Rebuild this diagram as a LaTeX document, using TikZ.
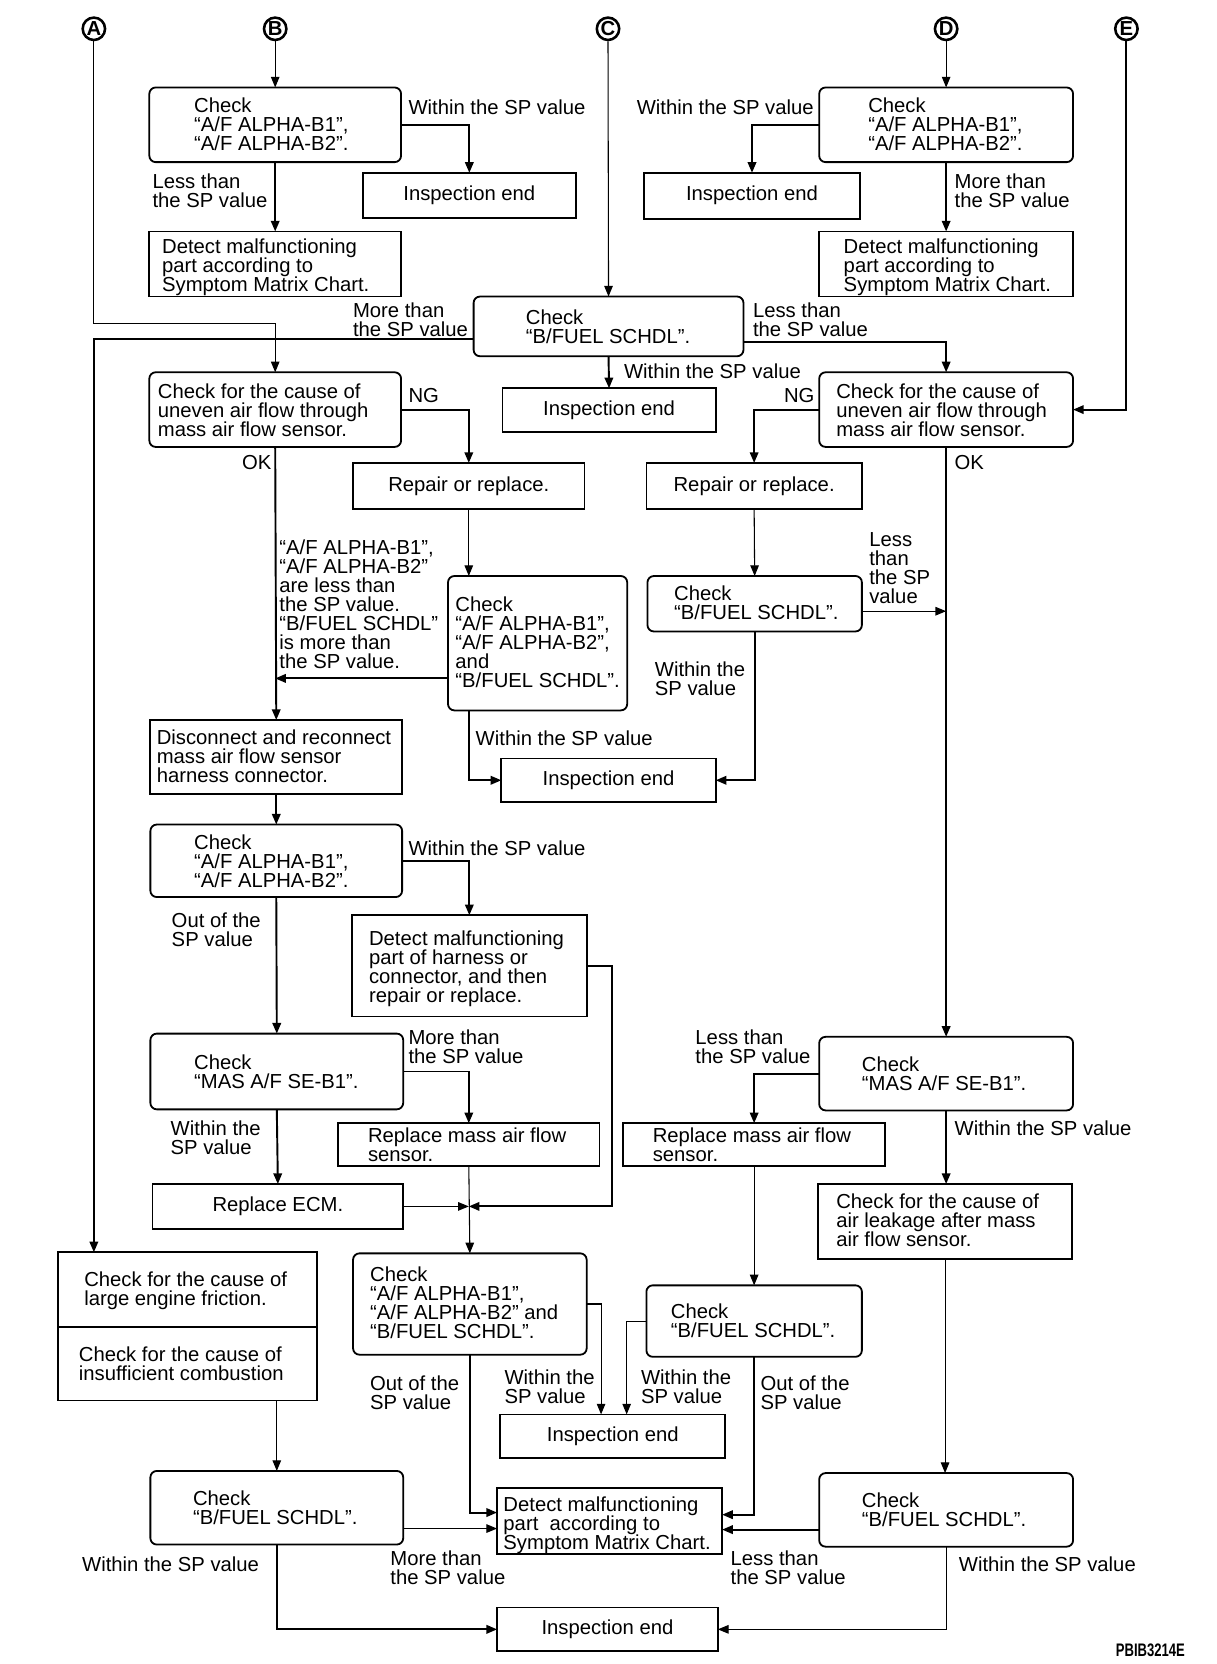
\documentclass[tikz,border=0pt]{standalone}
\usepackage{fontspec}
\setmainfont{Liberation Sans}
\usetikzlibrary{arrows.meta,calc}
\newcommand\myfont{\fontsize{19}{17.8}\selectfont\lineskiplimit=-50pt\relax}
\newcommand\mybox[7]{\node[#6,minimum width={#4-#2},minimum height={#5-#3}] (#1) at ({(#2+#4)/2},{(#3+#5)/2}) {#7};}
\newcommand\mytext[4]{\node[txt] (#1) at (#2,#3-7.5) {\strut #4};}
\begin{document}
\begin{tikzpicture}[x=1pt,y=-1pt,
  ln/.style={line width=1.8pt,-{Triangle[length=10pt,width=8pt]}},
  tn/.style={line width=1pt,-{Triangle[length=10pt,width=8pt]}},
  bxs/.style={draw,line width=1.7pt,inner sep=0pt,outer sep=0pt,font=\myfont},
  rbx/.style={bxs,rounded corners=6pt},
  txt/.style={inner sep=0pt,outer sep=0pt,anchor=north west,align=left,font=\myfont},
  circ/.style={draw,circle,line width=2.4pt,minimum size=21pt,inner sep=0pt,font=\bfseries\fontsize{19}{19}\selectfont}
]
\useasboundingbox (0,0) rectangle (1140,1560);
\fill[white] (0,0) rectangle (1140,1560);
% connectors circles
\node[circ] (A) at (88,27) {A};
\node[circ] (B) at (258,27) {B};
\node[circ] (C) at (570,27) {C};
\node[circ] (D) at (887,27) {D};
\node[circ] (E) at (1056,27) {E};
% boxes
\mybox{b1}{140}{82}{376}{152}{rbx}{}
\mybox{ie1}{340}{162}{540}{204}{bxs}{Inspection end}
\mybox{det1}{140}{217}{376}{278}{bxs}{}
\mybox{d1}{768}{82}{1006}{152}{rbx}{}
\mybox{ie2}{604}{162}{806}{205}{bxs}{Inspection end}
\mybox{det2}{768}{217}{1006}{278}{bxs}{}
\mybox{c1}{444}{278}{697}{334}{rbx}{}
\mybox{ie3}{471}{364}{671}{405}{bxs}{Inspection end}
\mybox{lc}{140}{349}{376}{419}{rbx}{}
\mybox{rc}{768}{349}{1006}{419}{rbx}{}
\mybox{rep1}{331}{434}{548}{477}{bxs}{Repair or replace.}
\mybox{rep2}{606}{434}{808}{477}{bxs}{Repair or replace.}
\mybox{lch3}{420}{540}{588}{666}{rbx}{}
\mybox{rch2}{607}{540}{808}{592}{rbx}{}
\mybox{ie4}{470}{711}{671}{752}{bxs}{Inspection end}
\mybox{disc}{141}{675}{377}{744}{bxs}{}
\mybox{lch4}{141}{773}{377}{841}{rbx}{}
\mybox{dh}{330}{858}{550}{953}{bxs}{}
\mybox{lmas}{141}{969}{378}{1040}{rbx}{}
\mybox{rmas}{768}{972}{1006}{1041}{rbx}{}
\mybox{rep3}{317}{1053}{562}{1093}{bxs}{}
\mybox{rep4}{584}{1053}{830}{1093}{bxs}{}
\mybox{ecm}{143}{1110}{378}{1152}{bxs}{Replace ECM.}
\mybox{leak}{767}{1110}{1005}{1180}{bxs}{}
\mybox{fric1}{54}{1174}{297}{1244}{bxs}{}
\mybox{fric2}{54}{1244}{297}{1313}{bxs}{}
\mybox{lch5}{331}{1175}{550}{1270}{rbx}{}
\mybox{rbf1}{606}{1205}{808}{1272}{rbx}{}
\mybox{ie5}{469}{1326}{680}{1367}{bxs}{Inspection end}
\mybox{lbf}{141}{1379}{378}{1448}{rbx}{}
\mybox{det3}{466}{1395}{677}{1457}{bxs}{}
\mybox{rbf2}{768}{1381}{1006}{1450}{rbx}{}
\mybox{ie6}{466}{1507}{673}{1548}{bxs}{Inspection end}
% box texts
\mytext{t1}{182}{99}{Check\\“A/F ALPHA-B1”,\\“A/F ALPHA-B2”.}
\mytext{t2}{152}{231}{Detect malfunctioning\\part according to\\Symptom Matrix Chart.}
\mytext{t3}{814}{99}{Check\\“A/F ALPHA-B1”,\\“A/F ALPHA-B2”.}
\mytext{t4}{791}{231}{Detect malfunctioning\\part according to\\Symptom Matrix Chart.}
\mytext{t5}{493}{298}{Check\\“B/FUEL SCHDL”.}
\mytext{t6}{148}{367}{Check for the cause of\\uneven air flow through\\mass air flow sensor.}
\mytext{t7}{427}{567}{Check\\“A/F ALPHA-B1”,\\“A/F ALPHA-B2”,\\and\\“B/FUEL SCHDL”.}
\mytext{t8}{784}{367}{Check for the cause of\\uneven air flow through\\mass air flow sensor.}
\mytext{t9}{632}{557}{Check\\“B/FUEL SCHDL”.}
\mytext{t10}{147}{692}{Disconnect and reconnect\\mass air flow sensor\\harness connector.}
\mytext{t11}{182}{790}{Check\\“A/F ALPHA-B1”,\\“A/F ALPHA-B2”.}
\mytext{t12}{346}{880}{Detect malfunctioning\\part of harness or\\connector, and then\\repair or replace.}
\mytext{t13}{182}{996}{Check\\“MAS A/F SE-B1”.}
\mytext{t14}{345}{1065}{Replace mass air flow\\sensor.}
\mytext{t15}{347}{1195}{Check\\“A/F ALPHA-B1”,\\“A/F ALPHA-B2” and\\“B/FUEL SCHDL”.}
\mytext{t16}{79}{1200}{Check for the cause of\\large engine friction.}
\mytext{t17}{74}{1270}{Check for the cause of\\insufficient combustion}
\mytext{t18}{181}{1405}{Check\\“B/FUEL SCHDL”.}
\mytext{t19}{472}{1411}{Detect malfunctioning\\part\ \ according to\\Symptom Matrix Chart.}
\mytext{t20}{808}{998}{Check\\“MAS A/F SE-B1”.}
\mytext{t21}{612}{1065}{Replace mass air flow\\sensor.}
\mytext{t22}{629}{1230}{Check\\“B/FUEL SCHDL”.}
\mytext{t23}{784}{1127}{Check for the cause of\\air leakage after mass\\air flow sensor.}
\mytext{t24}{808}{1407}{Check\\“B/FUEL SCHDL”.}
% labels
\mytext{l1}{383}{101}{Within the SP value}
\mytext{l2}{143}{170}{Less than\\the SP value}
\mytext{l3}{597}{101}{Within the SP value}
\mytext{l4}{895}{170}{More than\\the SP value}
\mytext{l5}{331}{291}{More than\\the SP value}
\mytext{l6}{706}{291}{Less than\\the SP value}
\mytext{l7}{585}{349}{Within the SP value}
\mytext{l8}{383}{372}{NG}
\mytext{l9}{735}{372}{NG}
\mytext{l10}{227}{434}{OK}
\mytext{l11}{895}{434}{OK}
\mytext{l12}{262}{514}{“A/F ALPHA-B1”,\\“A/F ALPHA-B2”\\are less than\\the SP value.\\“B/FUEL SCHDL”\\is more than\\the SP value.}
\mytext{l13}{815}{507}{Less\\than\\the SP\\value}
\mytext{l14}{614}{628}{Within the\\SP value}
\mytext{l15}{446}{693}{Within the SP value}
\mytext{l16}{383}{796}{Within the SP value}
\mytext{l17}{161}{863}{Out of the\\SP value}
\mytext{l18}{383}{973}{More than\\the SP value}
\mytext{l19}{652}{973}{Less than\\the SP value}
\mytext{l20}{160}{1058}{Within the\\SP value}
\mytext{l21}{895}{1058}{Within the SP value}
\mytext{l22}{347}{1297}{Out of the\\SP value}
\mytext{l23}{473}{1292}{Within the\\SP value}
\mytext{l24}{601}{1292}{Within the\\SP value}
\mytext{l25}{713}{1297}{Out of the\\SP value}
\mytext{l26}{77}{1467}{Within the SP value}
\mytext{l27}{366}{1461}{More than\\the SP value}
\mytext{l28}{685}{1461}{Less than\\the SP value}
\mytext{l29}{899}{1467}{Within the SP value}
\node[font=\bfseries\fontsize{17}{17}\selectfont,anchor=base west,inner sep=0pt] (code) at (1046,1553) {\scalebox{0.72}[1]{PBIB3214E}};
% connectors
\draw[tn] (B.south) -- (b1.north);
\draw[ln] (b1.east) -| (ie1.north);
\draw[ln] (b1.south) -- (det1.north);
\draw[tn] (D.south) -- (d1.north);
\draw[ln] (d1.west) -| (ie2.north);
\draw[ln] (d1.south) -- (det2.north);
\draw[tn] (C.south) -- (c1.north);
\draw[ln] (c1.south) -- (ie3.north);
\coordinate (cl) at ($(c1.west)+(0,12)$);
\draw[ln] (cl) -| (fric1.north -| A);
\coordinate (cr) at ($(c1.east)+(0,15)$);
\draw[ln] (cr) -| (rc.north);
\coordinate (aturn) at ($(lc.north)+(0,-46)$);
\draw[tn] (A.south) |- (aturn) -- (lc.north);
\draw[ln] (E.south) |- (rc.east);
\draw[ln] (lc.east) -| (rep1.north);
\draw[tn] (rep1.south) -- (rep1.south |- lch3.north);
\coordinate (p1) at ($(lch3.west)+(0,33)$);
\draw[ln] (p1) -- (p1 -| lc.south);
\draw[ln] (lc.south) -- (disc.north);
\draw[ln] (lch3.south -| rep1.south) |- (ie4.west);
\draw[ln] (rc.west) -| (rep2.north);
\draw[tn] (rep2.south) -- (rch2.north);
\coordinate (p2) at ($(rch2.east)+(0,7)$);
\draw[tn] (p2) -- (p2 -| rc.south);
\draw[ln] (rch2.south) |- (ie4.east);
\draw[ln] (rc.south) -- (rmas.north);
\draw[ln] (disc.south) -- (lch4.north);
\draw[ln] (lch4.east) -| (dh.north);
\draw[ln] (lch4.south) -- (lmas.north);
\coordinate (J) at (rep3.south |- ecm.east);
\coordinate (jr) at ($(dh.east)+(24,0)$);
\draw[ln] (dh.east) -- (jr) |- (J);
\draw[ln] (lmas.east) -| (rep3.north);
\draw[ln] (lmas.south) -- (ecm.north);
\draw[tn] (ecm.east) -- (J);
\draw[tn] (rep3.south) -- (lch5.north);
\draw[tn] (lch5.east) -| ($(ie5.north)+(-11,0)$);
\coordinate (q1) at ($(det3.west)+(0,-8)$);
\coordinate (q2) at ($(det3.west)+(0,7)$);
\draw[ln] (lch5.south) |- (q1);
\draw[tn] (fric2.south -| lbf.north) -- (lbf.north);
\draw[tn] (q2 -| lbf.east) -- (q2);
\draw[ln] (lbf.south) |- (ie6.west);
\draw[ln] (rmas.west) -| (rep4.north);
\draw[tn] (rep4.south) -- (rbf1.north);
\draw[tn] (rbf1.west) -| ($(ie5.north)+(13,0)$);
\coordinate (q3) at ($(det3.east)+(0,-6)$);
\coordinate (q4) at ($(det3.east)+(0,8)$);
\draw[ln] (rbf1.south) |- (q3);
\draw[ln] (rmas.south) -- (rmas.south |- leak.north);
\draw[tn] (leak.south) -- (leak.south |- rbf2.north);
\draw[ln] (q4 -| rbf2.west) -- (q4);
\draw[tn] (rbf2.south) |- (ie6.east);
\end{tikzpicture}
\end{document}
